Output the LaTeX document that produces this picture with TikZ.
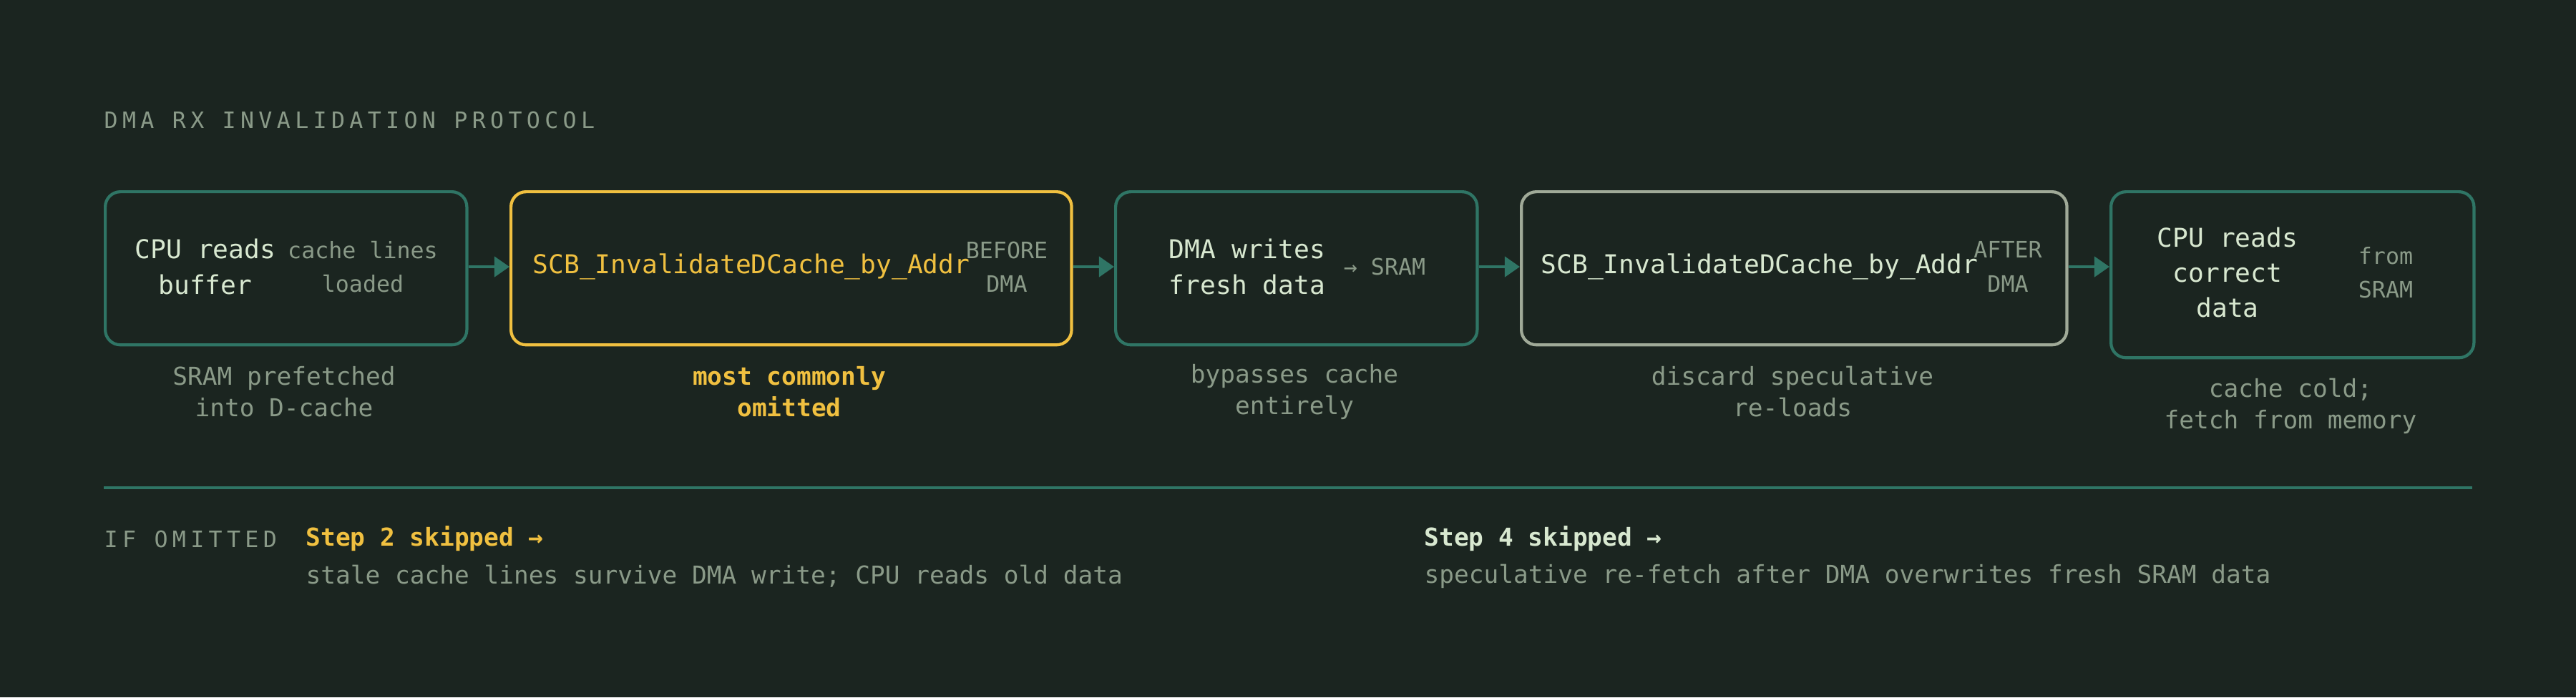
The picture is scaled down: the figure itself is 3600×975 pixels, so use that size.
\documentclass[tikz,border=0pt]{standalone}
\usepackage{fontspec}
\setmainfont{DejaVu Sans Mono}
\newfontfamily\spaced[LetterSpace=20]{DejaVu Sans Mono}
\usetikzlibrary{arrows.meta}
\definecolor{bgc}{HTML}{1B2520}
\definecolor{tealc}{HTML}{2F7565}
\definecolor{yell}{HTML}{F0C040}
\definecolor{lite}{HTML}{D8E8D0}
\definecolor{grey}{HTML}{8A9A88}
\definecolor{pale}{HTML}{A0AA98}
\tikzset{
  box/.style={draw=tealc, line width=1.2pt, rounded corners=6pt, fill=bgc, anchor=north west},
  main/.style={text=lite, align=center, font=\fontsize{10.3}{14}\selectfont},
  side/.style={text=grey, align=center, font=\fontsize{9}{13.5}\selectfont},
  caption/.style={text=grey, align=center, font=\fontsize{9.8}{12.5}\selectfont},
  flow/.style={draw=tealc, line width=1.2pt, -{Triangle[length=6pt,width=8pt]}}
}
\begin{document}
\begin{tikzpicture}[x=0.01cm,y=-0.01cm]
\fill[bgc] (0,0) rectangle (3600,975);
\useasboundingbox (0,0) rectangle (3600,975);
\node[anchor=west, inner sep=0pt, text=grey, font=\spaced\fontsize{9}{11}\selectfont] (title) at (145,168) {DMA RX INVALIDATION PROTOCOL};
% boxes
\node[box, minimum width=5.05cm, minimum height=2.14cm] (b1) at (145,266) {};
\node[box, draw=yell, minimum width=7.83cm, minimum height=2.14cm] (b2) at (712,266) {};
\node[box, minimum width=5.05cm, minimum height=2.14cm] (b3) at (1557,266) {};
\node[box, draw=pale, minimum width=7.62cm, minimum height=2.14cm] (b4) at (2124,266) {};
\node[box, minimum width=5.07cm, minimum height=2.32cm] (b5) at (2948,266) {};
% box texts
\node[main] (t1) at (287,373) {CPU reads\\buffer};
\node[side] (s1) at (507,373) {cache lines\\loaded};
\node[main, text=yell] (t2) at (1050,373) {SCB\_InvalidateDCache\_by\_Addr};
\node[side] (s2) at (1407,373) {BEFORE\\DMA};
\node[main] (t3) at (1743,373) {DMA writes\\fresh data};
\node[side] (s3) at (1935,373) {→ SRAM};
\node[main] (t4) at (2459,373) {SCB\_InvalidateDCache\_by\_Addr};
\node[side] (s4) at (2806,373) {AFTER\\DMA};
\node[main] (t5) at (3113,381) {CPU reads\\correct\\data};
\node[side] (s5) at (3334,381) {from\\SRAM};
% connectors
\draw[flow] (b1.east |- t1) -- (b2.west |- t1);
\draw[flow] (b2.east |- t1) -- (b3.west |- t1);
\draw[flow] (b3.east |- t1) -- (b4.west |- t1);
\draw[flow] (b4.east |- t1) -- (b5.west |- t1);
% captions
\node[caption] (c1) at (397,548) {SRAM prefetched\\into D-cache};
\node[caption, text=yell, font=\bfseries\fontsize{9.8}{12.5}\selectfont] (c2) at (1103,548) {most commonly\\omitted};
\node[caption] (c3) at (1809,548) {bypasses cache\\entirely};
\node[caption] (c4) at (2505,548) {discard speculative\\re-loads};
\node[caption] (c5) at (3201,568) {cache cold;\\fetch from memory};
% footer
\draw[tealc, line width=1.2pt] (145,682) -- (3455,682);
\node[anchor=west, inner sep=0pt, text=grey, font=\spaced\fontsize{9}{11}\selectfont] (omit) at (145,754) {IF OMITTED};
\node[anchor=west, inner sep=0pt, text=yell, font=\bfseries\fontsize{9.8}{12}\selectfont] (k2) at (427,753) {Step 2 skipped →};
\node[anchor=west, inner sep=0pt, caption] (d2) at (427,806) {stale cache lines survive DMA write; CPU reads old data};
\node[anchor=west, inner sep=0pt, text=lite, font=\bfseries\fontsize{9.8}{12}\selectfont] (k4) at (1990,753) {Step 4 skipped →};
\node[anchor=west, inner sep=0pt, caption] (d4) at (1990,806) {speculative re-fetch after DMA overwrites fresh SRAM data};
\end{tikzpicture}
\end{document}
